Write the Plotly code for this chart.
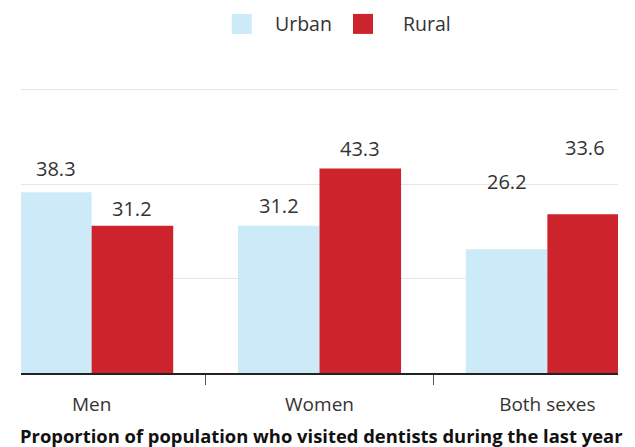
import plotly.graph_objects as go

categories = ["Men", "Women", "Both sexes"]
urban = [38.3, 31.2, 26.2]
rural = [31.2, 43.3, 33.6]
series_names = ["Urban", "Rural"]
title_text = "Proportion of population who visited dentists during the last year"

# label placement styling (pixel lifts above bar tops and horizontal nudges)
urban_lift = [24, 20, 68]
rural_lift = [17, 20, 67]
urban_nudge = [5, 0, 0]
rural_nudge = [0, 0, -3]

URBAN_C = "#cdeaf9"
RURAL_C = "#cc232c"
TXT = "#333333"
FONT = "Open Sans"
bargap = 0.284
bw = (1 - bargap) / 2

fig = go.Figure()
fig.add_trace(go.Bar(x=categories, y=urban, name=series_names[0], marker_color=URBAN_C,
                     marker_line_width=0, showlegend=False))
fig.add_trace(go.Bar(x=categories, y=rural, name=series_names[1], marker_color=RURAL_C,
                     marker_line_width=0, showlegend=False))

annots = []
for i in range(len(categories)):
    for vals, lifts, nud, off in ((urban, urban_lift, urban_nudge, -bw / 2),
                                  (rural, rural_lift, rural_nudge, bw / 2)):
        annots.append(dict(x=i + off, y=vals[i], xref="x", yref="y", text=f"{vals[i]:.1f}",
                           showarrow=False, yanchor="middle", xanchor="center",
                           yshift=lifts[i], xshift=nud[i],
                           font=dict(family=FONT, size=20, color=TXT)))
annots.append(dict(x=0.5, y=0, xref="paper", yref="paper", text=f"<b>{title_text}</b>",
                   showarrow=False, yanchor="middle", xanchor="center", yshift=-62,
                   xshift=1.5, font=dict(family=FONT, size=18.4, color="#111111")))

# custom legend (20px swatches + labels)
legend_swatch_x = [0.3697, 0.5729]
legend_text_x = [0.4221, 0.6365]
legend_y = 1.2322 * 283 / 287.7
shapes = []
for name, col, sx, tx in zip(series_names, [URBAN_C, RURAL_C], legend_swatch_x, legend_text_x):
    shapes.append(dict(type="rect", xref="paper", yref="paper", xsizemode="pixel",
                       ysizemode="pixel", xanchor=sx, yanchor=legend_y,
                       x0=-10, x1=10, y0=-10, y1=10, fillcolor=col, line_width=0))
    annots.append(dict(x=tx, y=legend_y, xref="paper", yref="paper", text=name,
                       showarrow=False, xanchor="left", yanchor="middle",
                       font=dict(family=FONT, size=19.5, color=TXT)))

fig.update_layout(
    width=635, height=447,
    margin=dict(l=21, r=17, t=85.3, b=74),
    paper_bgcolor="white", plot_bgcolor="white",
    barmode="group", bargap=bargap, bargroupgap=0,
    font=dict(family=FONT, size=19, color=TXT),
    showlegend=False,
    annotations=annots,
    shapes=shapes,
)
fig.update_xaxes(range=[-0.31, 2.31], showgrid=False, showline=True, linecolor="#222222",
                 linewidth=1.5, ticks="outside", tickson="boundaries", ticklen=10,
                 tickcolor="#555555", tickwidth=1, ticklabelstandoff=13,
                 tickfont=dict(family=FONT, size=19, color=TXT))
fig.update_yaxes(range=[0, 61], tickvals=[0, 20, 40, 60], showgrid=True, gridcolor="#e6e6e6",
                 gridwidth=1, showticklabels=False, zeroline=False, showline=False)

fig.write_html("out.html")
